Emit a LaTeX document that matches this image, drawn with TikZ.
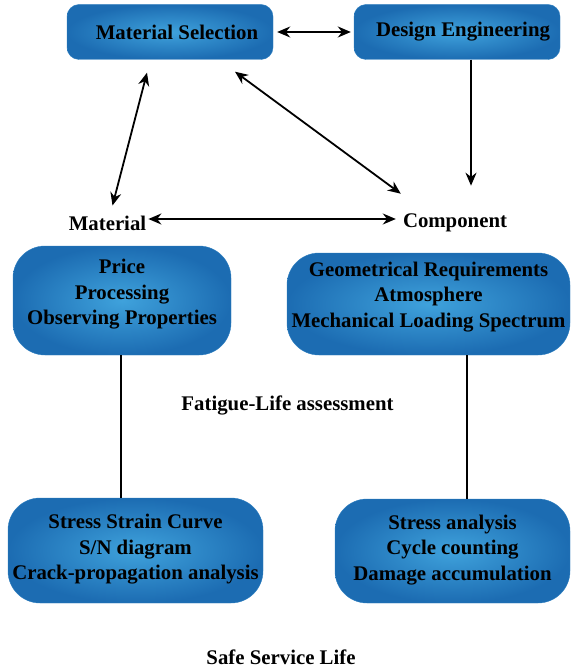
\documentclass[tikz,border=0pt]{standalone}
\usepackage{fontspec}
\setmainfont{Liberation Serif}
\usetikzlibrary{arrows.meta}
\begin{document}
\begin{tikzpicture}[x=1pt,y=-1pt,
  every node/.style={font=\fontsize{20.8}{25.5}\selectfont\bfseries, align=center, text=black},
  bluebox/.style={inner sep=0pt, inner color=blueIn, outer color=blueOut, draw=blueEdge, line width=0.4pt},
  topbox/.style={bluebox, rounded corners=12pt, minimum width=206pt, minimum height=55pt},
  bigbox/.style={bluebox, rounded corners=32pt},
  boxtext/.style={inner sep=0pt},
  label/.style={inner sep=1pt},
  biarrow/.style={{Stealth[length=13pt,width=11pt]}-{Stealth[length=13pt,width=11pt]}, line width=1.8pt},
  onearrow/.style={-{Stealth[length=13pt,width=11pt]}, line width=1.8pt},
  link/.style={line width=1.3pt}
]
\definecolor{blueIn}{HTML}{3FA2DC}
\definecolor{blueOut}{HTML}{1C6CB2}
\definecolor{blueEdge}{HTML}{2E7FC0}

\useasboundingbox (0,0) rectangle (573,668);

% upper row
\node[topbox] (ms) at (170,32) {};
\node[boxtext] (mstxt) at ([xshift=7pt]ms.center) {Material Selection};
\node[topbox] (de) at (457,32) {};
\node[boxtext] (detxt) at ([xshift=6pt]de.center) {Design Engineering};

% the two branches
\node[label] (mat)  at (107.5,223) {Material};
\node[label] (comp) at (455,223) {Component};

% material-side boxes
\node[bigbox, minimum width=218pt, minimum height=109pt] (pl) at (122,300.5) {};
\node[boxtext] (pltxt) at ([yshift=6pt]pl.center) {Price\\Processing\\Observing Properties};
\node[bigbox, minimum width=255pt, minimum height=105pt] (ql) at (135.5,550.5) {};
\node[boxtext] (qltxt) at ([yshift=1pt]ql.center) {Stress Strain Curve\\S/N diagram\\Crack-propagation analysis};

% component-side boxes
\node[bigbox, minimum width=283pt, minimum height=102pt] (pr) at (428.5,304) {};
\node[boxtext] (prtxt) at ([yshift=7pt]pr.center) {Geometrical Requirements\\Atmosphere\\Mechanical Loading Spectrum};
\node[bigbox, minimum width=235pt, minimum height=104pt] (qr) at (452.5,551) {};
\node[boxtext] (qrtxt) at ([yshift=1pt]qr.center) {Stress analysis\\Cycle counting\\Damage accumulation};

\node[label] (fla) at (287.5,405) {Fatigue-Life assessment};
\node[label] (ssl) at (281,657) {Safe Service Life};

% connectors
\draw[biarrow] ([xshift=4pt]ms.east) -- ([xshift=-3pt]de.west);
\draw[onearrow] ([xshift=14pt]de.south) -- ([xshift=16pt,yshift=27pt]comp.north);
\draw[biarrow] ([xshift=-23pt,yshift=-13pt]ms.south) -- ([xshift=5pt,yshift=9pt]mat.north);
\draw[biarrow] ([xshift=65pt,yshift=-12pt]ms.south) -- ([xshift=-1pt,yshift=19pt]comp.north west);
\draw[biarrow] ([xshift=1pt,yshift=4pt]mat.east) -- ([xshift=-6pt,yshift=4pt]comp.west);

\draw[link] ([xshift=-1pt]pl.south) -- ([xshift=-1pt]pl.south |- ql.north);
\draw[link] ([xshift=38.5pt]pr.south) -- ([xshift=38.5pt]pr.south |- qr.north);
\end{tikzpicture}
\end{document}
